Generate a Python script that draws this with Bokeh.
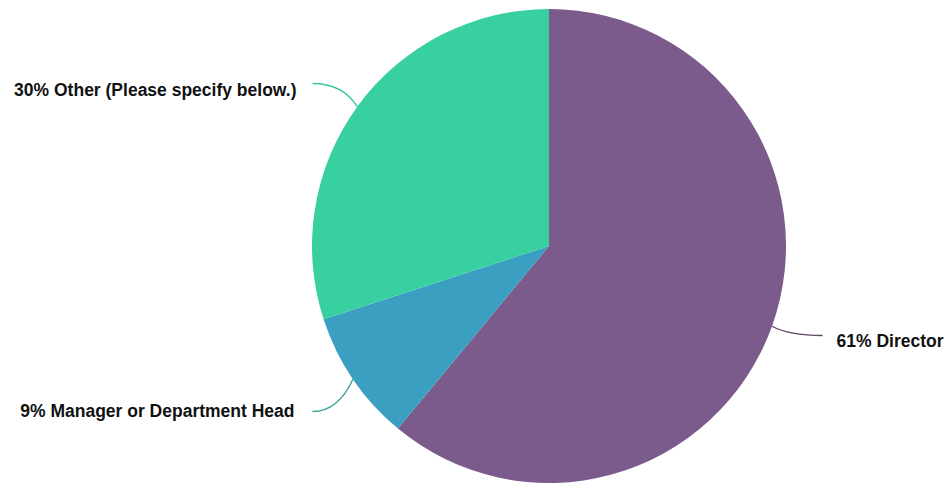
import math
from bokeh.plotting import figure
from bokeh.models import Range1d, ColumnDataSource
from bokeh.core.properties import value
from bokeh.embed import file_html
from bokeh.resources import INLINE

categories = ["Director", "Manager or Department Head", "Other (Please specify below.)"]
percents = [61, 9, 30]
colors = ["#7a5b8b", "#3a9fc0", "#38d0a0"]
line_colors = ["#5e4a66", "#2f9f96", "#38c89c"]

W, H = 944, 483
cx, cy_pix, R = 548.5, 245.5, 237.0
cy = H - cy_pix

p = figure(width=W, height=H, output_backend="svg", toolbar_location=None,
           x_range=Range1d(0, W), y_range=Range1d(0, H),
           min_border=0, outline_line_color=None)
p.axis.visible = False
p.grid.visible = False
p.background_fill_color = "white"
p.border_fill_color = "white"

total = float(sum(percents))
starts, ends, mids = [], [], []
cum = 0.0
for v in percents:
    a0 = math.pi / 2 - 2 * math.pi * cum / total
    cum += v
    a1 = math.pi / 2 - 2 * math.pi * cum / total
    starts.append(a0)
    ends.append(a1)
    mids.append((a0 + a1) / 2)

src = ColumnDataSource(dict(x=[cx] * 3, y=[cy] * 3, s=starts, e=ends, c=colors))
p.wedge(x="x", y="y", radius=R, start_angle="s", end_angle="e", direction="clock",
        fill_color="c", line_color=None, source=src)

# label layout: (line end x, line end y px, text x, text y px, align)
layout = [
    (822, 335, 836, 340, "left"),
    (312, 411, 294, 410, "right"),
    (312, 83, 296, 89, "right"),
]
for i, (ex, ey_pix, tx, ty_pix, align) in enumerate(layout):
    m = mids[i]
    sx = cx + R * math.cos(m)
    sy = cy + R * math.sin(m)
    ey = H - ey_pix
    kx = sx + 18 * math.cos(m)
    ky = ey
    p.quadratic(x0=[sx], y0=[sy], x1=[ex], y1=[ey], cx=[kx], cy=[ky],
                line_color=line_colors[i], line_width=1.3)
    txt = f"{percents[i]}% {categories[i]}"
    p.text(x=[tx], y=[H - ty_pix], text=[txt],
           text_font=value("Liberation Sans"), text_font_style="bold",
           text_font_size="17.5px", text_color="#111111",
           text_align=align, text_baseline="middle")

open("out.html", "w").write(file_html(p, INLINE))
